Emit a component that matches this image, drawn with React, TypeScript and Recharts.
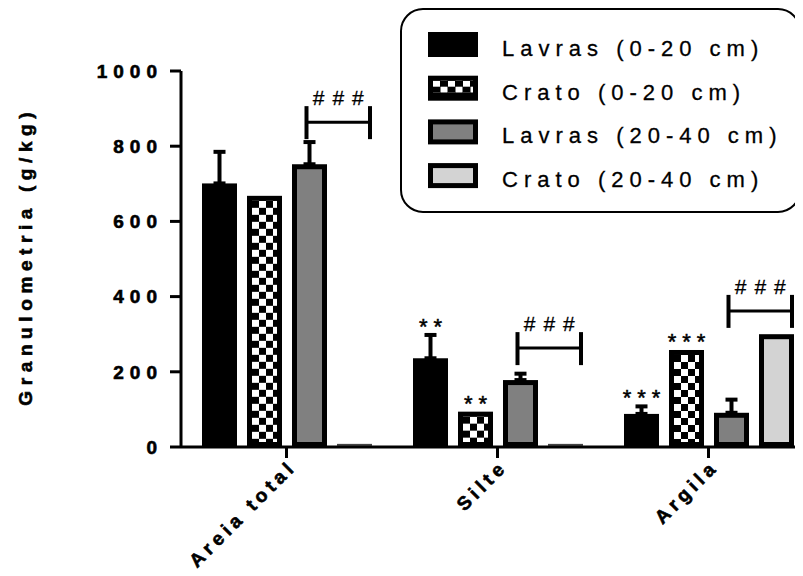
import { BarChart, Bar, XAxis, YAxis, ErrorBar, LabelList, Legend, Label } from "recharts";

const categories = ["Areia total", "Silte", "Argila"];
const seriesNames = ["Lavras (0-20 cm)", "Crato (0-20 cm)", "Lavras (20-40 cm)", "Crato (20-40 cm)"];

const lavras020 = [701, 236, 88];
const lavras020Err = [84, 62, 20];
const crato020 = [668, 94, 258];
const lavras2040 = [752, 178, 91];
const lavras2040Err = [59, 17, 35];
const crato2040 = [3, 3, 300];

const lavras020Stars = ["", "**", "***"];
const crato020Stars = ["", "**", "***"];
const bracketLevels = [864, 263, 362];
const bracketMarks = ["###", "###", "###"];

const yTicks = [0, 200, 400, 600, 800, 1000];

const FONT = "'Liberation Sans', Arial, sans-serif";
const BORDER = 5;
const BAR_SIZE = 35;
const BAR_GAP = 10;
const Y_LS = 6;
const X_LS = 4.5;
const GRAY = "#808080";
const LIGHT = "#d3d3d3";

// bold labels look heavier in the original, so thicken them a little
const heavy = { stroke: "#000", strokeWidth: 0.6 };

const data = categories.map((name, i) => ({
	name,
	lavras020: lavras020[i],
	lavras020Err: [0, lavras020Err[i]],
	crato020: crato020[i],
	lavras2040: lavras2040[i],
	lavras2040Err: [0, lavras2040Err[i]],
	crato2040: crato2040[i],
}));

function SolidBar(props: any) {
	const { x, y, width, height } = props;
	return <rect x={x} y={y} width={width} height={height} fill="#000" />;
}

function OutlinedBar(props: any) {
	const { x, y, width, height, fill } = props;
	if (height < BORDER * 2) {
		return <rect x={x} y={y - 2} width={width} height={2} fill="#444" />;
	}
	return (
		<rect
			x={x + BORDER / 2}
			y={y + BORDER / 2}
			width={width - BORDER}
			height={height - BORDER}
			fill={fill}
			stroke="#000"
			strokeWidth={BORDER}
		/>
	);
}

function CheckerBar(props: any) {
	const { x, y, width, height, index } = props;
	const id = `checker-bar-${index}`;
	const ix = x + BORDER;
	const iy = y + BORDER;
	return (
		<g>
			<defs>
				<pattern id={id} x={ix} y={iy} width={14} height={14} patternUnits="userSpaceOnUse">
					<rect width={14} height={14} fill="#fff" />
					<rect width={7} height={7} fill="#000" />
					<rect x={7} y={7} width={7} height={7} fill="#000" />
				</pattern>
			</defs>
			<rect x={x} y={y} width={width} height={height} fill="#000" />
			<rect
				x={ix}
				y={iy}
				width={width - 2 * BORDER}
				height={Math.max(0, height - 2 * BORDER)}
				fill={`url(#${id})`}
			/>
		</g>
	);
}

function starLabel(values: number[], errs: number[] | null, marks: string[]) {
	return (props: any) => {
		const { x, y, width, height, index } = props;
		const mark = marks[index];
		if (!mark) return null;
		const perUnit = height / values[index];
		const top = y - (errs ? errs[index] : 0) * perUnit;
		return (
			<text
				x={x + width / 2 + 3}
				y={top - 1}
				textAnchor="middle"
				fontFamily={FONT}
				fontSize={22}
				letterSpacing={6}
				fill="#000"
				stroke="#000"
				strokeWidth={0.5}
			>
				{mark}
			</text>
		);
	};
}

function BracketLabel(props: any) {
	const { x, y, width, height, index } = props;
	const perUnit = height / lavras2040[index];
	const by = y + height - bracketLevels[index] * perUnit;
	const left = x + width / 2 - 3;
	const right = x + 2 * width + BAR_GAP - 2;
	return (
		<g>
			<line x1={left} x2={right} y1={by} y2={by} stroke="#000" strokeWidth={3} />
			<line x1={left} x2={left} y1={by - 16} y2={by + 17} stroke="#000" strokeWidth={4} />
			<line x1={right} x2={right} y1={by - 16} y2={by + 17} stroke="#000" strokeWidth={4} />
			<text
				x={(left + right) / 2 + 4}
				y={by - 17}
				textAnchor="middle"
				fontFamily={FONT}
				fontSize={21}
				letterSpacing={8}
				fill="#000"
				stroke="#000"
				strokeWidth={0.3}
			>
				{bracketMarks[index]}
			</text>
		</g>
	);
}

function YTick(props: any) {
	const { x, y, payload } = props;
	return (
		<text
			x={x}
			y={y}
			dx={Y_LS}
			dy="0.355em"
			textAnchor="end"
			fontFamily={FONT}
			fontSize={19}
			fontWeight="bold"
			letterSpacing={Y_LS}
			fill="#000"
			{...heavy}
		>
			{payload.value}
		</text>
	);
}

function XTick(props: any) {
	const { x, y, payload } = props;
	return (
		<g transform={`translate(${x + 8},${y + 13})`}>
			<text
				x={0}
				y={0}
				dx={X_LS}
				transform="rotate(-45)"
				textAnchor="end"
				fontFamily={FONT}
				fontSize={19}
				fontWeight="bold"
				letterSpacing={X_LS}
				fill="#000"
				{...heavy}
			>
				{payload.value}
			</text>
		</g>
	);
}

function YTitle(props: any) {
	const vb = props.viewBox;
	const cx = vb.x + 17;
	const cy = vb.y + vb.height / 2;
	return (
		<text
			x={cx}
			y={cy}
			dx={2.8}
			dy="0.35em"
			transform={`rotate(-90, ${cx}, ${cy})`}
			textAnchor="middle"
			fontFamily={FONT}
			fontSize={19}
			fontWeight="bold"
			letterSpacing={5.6}
			fill="#000"
			{...heavy}
		>
			Granulometria (g/kg)
		</text>
	);
}

function Swatch({ kind, x, y }: { kind: number; x: number; y: number }) {
	const w = 50;
	const h = 25;
	if (kind === 0) return <rect x={x} y={y} width={w} height={h} fill="#000" />;
	if (kind === 1) {
		return (
			<g>
				<defs>
					<pattern id="checker-legend" x={x + 5} y={y + 5} width={15} height={12} patternUnits="userSpaceOnUse">
						<rect width={15} height={12} fill="#000" />
						<rect x={0} y={0} width={7} height={6} fill="#fff" />
						<rect x={7.5} y={6} width={7} height={6} fill="#fff" />
					</pattern>
				</defs>
				<rect x={x} y={y} width={w} height={h} fill="#000" />
				<rect x={x + 5} y={y + 5} width={40} height={12} fill="url(#checker-legend)" />
			</g>
		);
	}
	return (
		<rect
			x={x + BORDER / 2}
			y={y + BORDER / 2}
			width={w - BORDER}
			height={h - BORDER}
			fill={kind === 2 ? GRAY : LIGHT}
			stroke="#000"
			strokeWidth={BORDER}
		/>
	);
}

function LegendBox() {
	return (
		<svg width={401} height={205} style={{ display: "block" }}>
			<rect x={1} y={1} width={399} height={203} rx={22} fill="#fff" stroke="#000" strokeWidth={2} />
			{seriesNames.map((name, i) => (
				<g key={name}>
					<Swatch kind={i} x={28} y={24 + i * 43.7} />
					<text
						x={102}
						y={48 + i * 43.7}
						fontFamily={FONT}
						fontSize={22}
						letterSpacing={6}
						fill="#000"
						stroke="#000"
						strokeWidth={0.3}
					>
						{name}
					</text>
				</g>
			))}
		</svg>
	);
}

export default function App() {
	return (
		<div style={{ width: 795, height: 568, overflow: "hidden", position: "relative" }}>
			<BarChart
				width={806}
				height={568}
				data={data}
				margin={{ top: 63, right: 0, bottom: 0, left: 0 }}
				barGap={BAR_GAP}
			>
				<XAxis
					dataKey="name"
					interval={0}
					height={129}
					tickSize={11}
					tickMargin={0}
					tick={<XTick />}
					axisLine={{ stroke: "#000", strokeWidth: 3 }}
					tickLine={{ stroke: "#000", strokeWidth: 3 }}
				/>
				<YAxis
					width={173}
					domain={[0, 1000]}
					ticks={yTicks}
					interval={0}
					tickSize={11}
					tickMargin={13}
					tick={<YTick />}
					axisLine={{ stroke: "#000", strokeWidth: 3 }}
					tickLine={{ stroke: "#000", strokeWidth: 3 }}
				>
					<Label content={<YTitle />} />
				</YAxis>
				<Legend
					layout="vertical"
					align="center"
					verticalAlign="middle"
					width={401}
					height={205}
					wrapperStyle={{ position: "absolute", left: 392, top: 0, width: 401, height: 205 }}
					content={() => <LegendBox />}
				/>
				<Bar
					dataKey="lavras020"
					name={seriesNames[0]}
					barSize={BAR_SIZE}
					fill="#000"
					shape={SolidBar}
					isAnimationActive={false}
				>
					<ErrorBar dataKey="lavras020Err" direction="y" width={6} stroke="#000" strokeWidth={4} isAnimationActive={false} />
					<LabelList dataKey="lavras020" content={starLabel(lavras020, lavras020Err, lavras020Stars)} />
				</Bar>
				<Bar
					dataKey="crato020"
					name={seriesNames[1]}
					barSize={BAR_SIZE}
					fill="#000"
					shape={CheckerBar}
					isAnimationActive={false}
				>
					<LabelList dataKey="crato020" content={starLabel(crato020, null, crato020Stars)} />
				</Bar>
				<Bar
					dataKey="lavras2040"
					name={seriesNames[2]}
					barSize={BAR_SIZE}
					fill={GRAY}
					shape={OutlinedBar}
					isAnimationActive={false}
				>
					<ErrorBar dataKey="lavras2040Err" direction="y" width={6} stroke="#000" strokeWidth={4} isAnimationActive={false} />
					<LabelList dataKey="lavras2040" content={BracketLabel} />
				</Bar>
				<Bar
					dataKey="crato2040"
					name={seriesNames[3]}
					barSize={BAR_SIZE}
					fill={LIGHT}
					shape={OutlinedBar}
					isAnimationActive={false}
				/>
			</BarChart>
		</div>
	);
}
